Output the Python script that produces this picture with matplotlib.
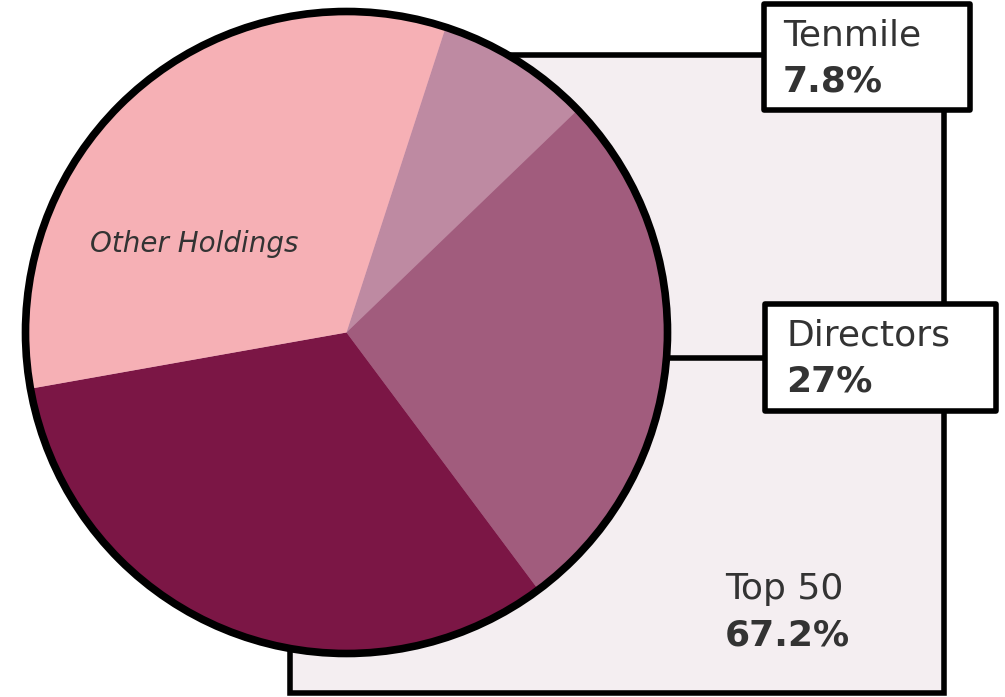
import matplotlib
matplotlib.use("Agg")
import matplotlib.pyplot as plt
from matplotlib import patches

# ---- data ----
slice_names = ["Tenmile", "Directors", "Top 50 (rest)", "Other Holdings"]
slice_values = [7.8, 27.0, 32.4, 32.8]
slice_colors = ["#be8aa2", "#a15c7d", "#7b1645", "#f6b0b5"]
callout_names = ["Tenmile", "Directors", "Top 50"]
callout_values = ["7.8%", "27%", "67.2%"]

W, H = 1005, 697
fig = plt.figure(figsize=(W / 100, H / 100), dpi=100)
ax = fig.add_axes([0, 0, 1, 1])

def Y(py):
    return H - py

txt = "#333333"
font = "DejaVu Sans"

# background panel
ax.add_patch(patches.Rectangle((290, Y(693)), 654, 638, facecolor="#f4eef1",
                               edgecolor="black", lw=4.0, zorder=1))

cx, cy, r = 346.5, Y(332.5), 321

# subtle shadow
ax.add_patch(patches.Circle((cx + 2, cy - 1.5), r, facecolor="#c99ab2",
                            edgecolor="none", zorder=2))

wedges, _ = ax.pie(slice_values, colors=slice_colors, startangle=72,
                   counterclock=False, center=(cx, cy), radius=r,
                   wedgeprops=dict(linewidth=0))
for w in wedges:
    w.set_zorder(3)
ax.set_xlim(0, W)
ax.set_ylim(0, H)
ax.set_aspect("equal")
ax.axis("off")

ax.add_patch(patches.Circle((cx, cy), r, facecolor="none", edgecolor="black",
                            lw=5.5, zorder=4))

# connector for Directors
ax.plot([cx + r, 766], [Y(358), Y(358)], color="black", lw=4.0, zorder=2.5,
        solid_capstyle="butt")

# callout boxes
boxes = [(764, 4, 206, 106), (765, 304, 231, 107)]
for (bx, by, bw, bh) in boxes:
    ax.add_patch(patches.Rectangle((bx, Y(by + bh)), bw, bh, facecolor="white",
                                   edgecolor="black", lw=4.0, zorder=5,
                                   joinstyle="round"))

label_pos = [(783, 46, 92), (786, 346, 392), (725, 599, 646)]
for name, val, (lx, y1, y2) in zip(callout_names, callout_values, label_pos):
    ax.text(lx, Y(y1), name, fontsize=26, color=txt, family=font,
            va="baseline", ha="left", zorder=6)
    ax.text(lx, Y(y2), val, fontsize=26, color=txt, family=font,
            fontweight="bold", va="baseline", ha="left", zorder=6)

ax.text(90, Y(252), slice_names[3], fontsize=20, color=txt, family=font,
        style="italic", va="baseline", ha="left", zorder=6)

fig.savefig("out.png", dpi=100)
